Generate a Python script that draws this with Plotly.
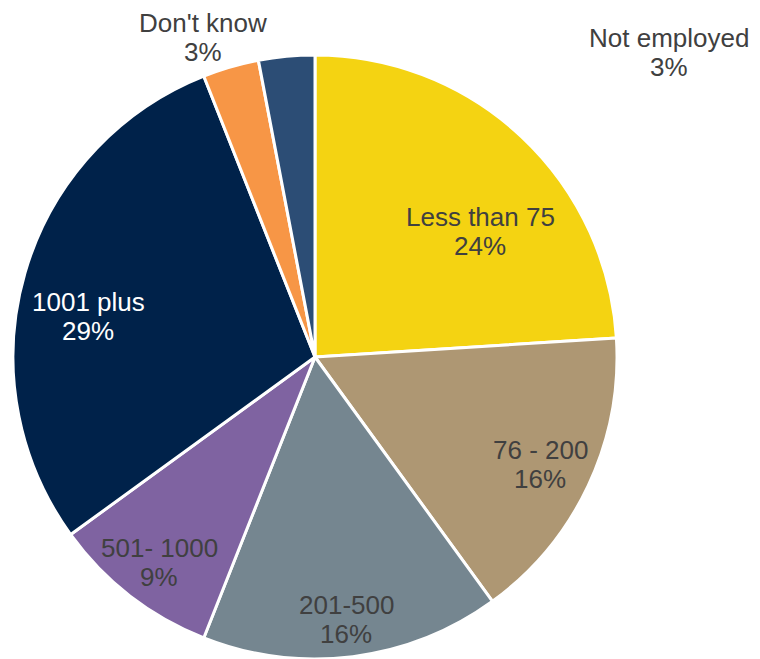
import plotly.graph_objects as go

# Share of respondents by organisation size (number of employees)
categories = ["Less than 75", "76 - 200", "201-500", "501- 1000", "1001 plus", "Don't know", "Not employed"]
shares = [24, 16, 16, 9, 29, 3, 3]
colors = ["#F4D312", "#AE9773", "#758690", "#7F63A1", "#00224A", "#F79646", "#2C4D75"]
text_colors = ["#404040", "#404040", "#404040", "#404040", "#FFFFFF", "#404040", "#404040"]

# Label centres in pixels (x, y of first line); second line sits one line below
label_xy = [(480, 217), (540, 450), (346, 605), (159, 548), (88, 302), (203, 23), (669, 38)]
LINE_GAP = 29

W, H = 760, 659
CX, R = 315, 302

fig = go.Figure(
    go.Pie(
        labels=categories,
        values=shares,
        sort=False,
        direction="clockwise",
        rotation=0,
        textinfo="none",
        marker=dict(colors=colors, line=dict(color="#FFFFFF", width=3)),
        domain=dict(x=[(CX - R) / W, (CX + R) / W], y=[0, 2 * R / H]),
        showlegend=False,
    )
)

annotations = []
for cat, val, tc, (x, y) in zip(categories, shares, text_colors, label_xy):
    for line, yy in ((cat, y), (f"{val}%", y + LINE_GAP)):
        annotations.append(
            dict(
                text=line,
                x=x / W,
                y=1 - yy / H,
                xref="paper",
                yref="paper",
                xanchor="center",
                yanchor="middle",
                showarrow=False,
                font=dict(family="Liberation Sans, Arial, sans-serif", size=26, color=tc),
            )
        )

fig.update_layout(
    width=W,
    height=H,
    margin=dict(l=0, r=0, t=0, b=0),
    paper_bgcolor="#FFFFFF",
    plot_bgcolor="#FFFFFF",
    annotations=annotations,
)

fig.write_html("out.html")
